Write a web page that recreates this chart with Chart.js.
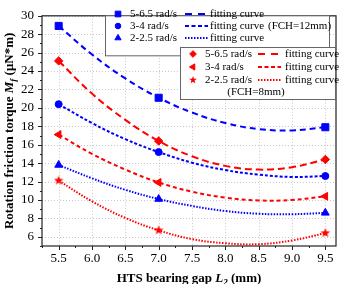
<!DOCTYPE html>
<html>
<head>
<meta charset="utf-8">
<script src="https://cdn.jsdelivr.net/npm/chart.js@4.4.1/dist/chart.umd.min.js"></script>
<style>
  html, body { margin: 0; padding: 0; background: #fff; }
  #wrap { width: 342px; height: 284px; }
</style>
</head>
<body>
<div id="wrap"><canvas id="chart" width="342" height="284"></canvas></div>
<script>
// gap values (mm) where the measurements sit
const gapPoints = [5.5, 7.0, 9.5];
// gap values sampled along the fitting curves
const gapCurve = [5.5, 6.0, 6.5, 7.0, 7.5, 8.0, 8.5, 9.0, 9.5];

// FCH = 12mm (blue), measured torque
const fch12High = [28.9, 21.1, 17.9];
const fch12Mid = [20.4, 15.2, 12.6];
const fch12Low = [13.8, 10.1, 8.6];
// FCH = 12mm fitting curves
const fch12HighFit = [28.9, 25.8, 23.2, 21.1, 19.5, 18.35, 17.7, 17.55, 17.9];
const fch12MidFit = [20.4, 18.35, 16.6, 15.2, 14.05, 13.25, 12.75, 12.5, 12.6];
const fch12LowFit = [13.8, 12.35, 11.1, 10.1, 9.35, 8.8, 8.5, 8.45, 8.6];

// FCH = 8mm (red), measured torque
const fch8High = [25.1, 16.4, 14.4];
const fch8Mid = [17.1, 11.9, 10.4];
const fch8Low = [12.1, 6.7, 6.4];
// FCH = 8mm fitting curves
const fch8HighFit = [25.1, 21.55, 18.7, 16.4, 14.75, 13.7, 13.3, 13.55, 14.4];
const fch8MidFit = [17.1, 15.0, 13.3, 11.9, 10.9, 10.25, 9.95, 10.0, 10.4];
const fch8LowFit = [12.1, 9.85, 8.05, 6.7, 5.75, 5.3, 5.2, 5.6, 6.4];

const speedLabels = ['5-6.5 rad/s', '3-4 rad/s', '2-2.5 rad/s'];
const xTicks = [5.5, 6.0, 6.5, 7.0, 7.5, 8.0, 8.5, 9.0, 9.5];
const yTicks = [6, 8, 10, 12, 14, 16, 18, 20, 22, 24, 26, 28, 30];

const BLUE = '#0000ff';
const RED = '#ff0000';
const SERIF = '"Liberation Serif", "Times New Roman", serif';

// filled star marker (chart.js 'star' is only an outline)
function makeStar(color, r) {
    const c = document.createElement('canvas');
    const s = Math.ceil(r * 2 + 2);
    c.width = s; c.height = s;
    const g = c.getContext('2d');
    g.fillStyle = color;
    g.beginPath();
    for (let i = 0; i < 10; i++) {
        const rr = i % 2 === 0 ? r : r * 0.42;
        const a = -Math.PI / 2 + i * Math.PI / 5;
        const px = s / 2 + rr * Math.cos(a);
        const py = s / 2 + rr * Math.sin(a);
        if (i === 0) g.moveTo(px, py); else g.lineTo(px, py);
    }
    g.closePath();
    g.fill();
    return c;
}
const starImg = makeStar(RED, 5);
const starSmall = makeStar(RED, 4);

function pts(xs, ys) {
    return xs.map((x, i) => ({ x: x, y: ys[i] }));
}

const markers = [
    { data: fch12High, color: BLUE, style: 'rect', radius: 5, rotation: 0 },
    { data: fch12Mid, color: BLUE, style: 'circle', radius: 3.5, rotation: 0 },
    { data: fch12Low, color: BLUE, style: 'triangle', radius: 4.5, rotation: 0 },
    { data: fch8High, color: RED, style: 'rectRot', radius: 4.2, rotation: 0 },
    { data: fch8Mid, color: RED, style: 'triangle', radius: 4.5, rotation: -90 },
    { data: fch8Low, color: RED, style: starImg, radius: 5, rotation: 0 }
];
const curves = [
    { data: fch12HighFit, color: BLUE, dash: [6, 4], legendDash: [7, 6] },
    { data: fch12MidFit, color: BLUE, dash: [3, 2], legendDash: [4, 2.5] },
    { data: fch12LowFit, color: BLUE, dash: [1.5, 1.5], legendDash: [1.5, 1.5] },
    { data: fch8HighFit, color: RED, dash: [7, 4], legendDash: [7, 6] },
    { data: fch8MidFit, color: RED, dash: [4, 3], legendDash: [4, 2.5] },
    { data: fch8LowFit, color: RED, dash: [1.5, 1.5], legendDash: [1.5, 1.5] }
];

const datasets = [];
curves.forEach(c => {
    datasets.push({
        data: pts(gapCurve, c.data),
        borderColor: c.color,
        borderWidth: 2,
        borderDash: c.dash,
        pointRadius: 0,
        tension: 0.4,
        fill: false
    });
});
markers.forEach(m => {
    datasets.push({
        data: pts(gapPoints, m.data),
        showLine: false,
        pointStyle: m.style,
        pointRadius: m.radius,
        pointRotation: m.rotation,
        pointBackgroundColor: m.color,
        pointBorderColor: m.color,
        pointBorderWidth: 1
    });
});

function drawMarker(ctx, m, x, y) {
    ctx.save();
    ctx.fillStyle = m.color;
    ctx.strokeStyle = m.color;
    ctx.lineWidth = 1;
    const style = m.style === starImg ? starSmall : m.style;
    Chart.helpers.drawPoint(ctx, { pointStyle: style, radius: m.radius * 0.8, rotation: m.rotation, borderWidth: 1 }, x, y);
    ctx.restore();
}

function drawSample(ctx, c, x1, x2, y) {
    ctx.save();
    ctx.strokeStyle = c.color;
    ctx.lineWidth = 2;
    ctx.setLineDash(c.legendDash);
    ctx.beginPath();
    ctx.moveTo(x1, y);
    ctx.lineTo(x2, y);
    ctx.stroke();
    ctx.restore();
}

// grid, frame and minor ticks
const framePlugin = {
    id: 'frame',
    beforeDatasetsDraw(chart) {
        const ctx = chart.ctx;
        const a = chart.chartArea;
        const xs = chart.scales.x, ys = chart.scales.y;
        ctx.save();
        ctx.strokeStyle = '#c8c8c8';
        ctx.lineWidth = 1;
        ctx.setLineDash([1, 2]);
        xTicks.forEach(v => {
            const px = Math.round(xs.getPixelForValue(v)) + 0.5;
            ctx.beginPath(); ctx.moveTo(px, a.top); ctx.lineTo(px, a.bottom); ctx.stroke();
        });
        yTicks.forEach(v => {
            const py = Math.round(ys.getPixelForValue(v)) + 0.5;
            ctx.beginPath(); ctx.moveTo(a.left, py); ctx.lineTo(a.right, py); ctx.stroke();
        });
        ctx.setLineDash([]);
        ctx.strokeStyle = '#222';
        ctx.lineWidth = 1.2;
        ctx.strokeRect(a.left, a.top, a.right - a.left, a.bottom - a.top);
        // major & minor ticks on left and bottom
        ctx.lineWidth = 1;
        for (let v = 5; v <= 30; v += 1) {
            const py = Math.round(ys.getPixelForValue(v)) + 0.5;
            const len = v % 2 === 0 ? 4 : 2;
            ctx.beginPath(); ctx.moveTo(a.left - len, py); ctx.lineTo(a.left, py); ctx.stroke();
        }
        for (let v = 5.25; v <= 9.66; v += 0.25) {
            const px = Math.round(xs.getPixelForValue(v)) + 0.5;
            const major = Math.abs(v * 2 - Math.round(v * 2)) < 0.01;
            const len = major ? 4 : 2;
            ctx.beginPath(); ctx.moveTo(px, a.bottom); ctx.lineTo(px, a.bottom + len); ctx.stroke();
        }
        ctx.restore();
    },
    afterDraw(chart) {
        const ctx = chart.ctx;
        const a = chart.chartArea;
        ctx.save();

        // legend box 1 (FCH=12mm)
        ctx.fillStyle = '#fff';
        ctx.strokeStyle = '#666';
        ctx.lineWidth = 1;
        ctx.fillRect(105.5, a.top, 224, 40);
        ctx.strokeRect(105.5, a.top, 224, 40);
        ctx.font = '11px ' + SERIF;
        ctx.textBaseline = 'middle';
        ctx.textAlign = 'left';
        const rows1 = [14, 26, 38];
        for (let i = 0; i < 3; i++) {
            drawMarker(ctx, markers[i], 118, rows1[i]);
            ctx.fillStyle = '#000';
            ctx.fillText(speedLabels[i], 130, rows1[i] + 0.5);
            drawSample(ctx, curves[i], 185, 208, rows1[i]);
            ctx.fillStyle = '#000';
            ctx.fillText('fitting curve', 210, rows1[i] + 0.5);
        }
        ctx.fillText('(FCH=12mm)', 268, rows1[1] + 0.5);

        // legend box 2 (FCH=8mm)
        ctx.fillStyle = '#fff';
        ctx.fillRect(180.5, 47.5, a.right - 181, 52);
        ctx.strokeStyle = '#666';
        ctx.strokeRect(180.5, 47.5, a.right - 181, 52);
        const rows2 = [54, 67, 80];
        for (let i = 0; i < 3; i++) {
            drawMarker(ctx, markers[i + 3], 193, rows2[i]);
            ctx.fillStyle = '#000';
            ctx.fillText(speedLabels[i], 205, rows2[i] + 0.5);
            drawSample(ctx, curves[i + 3], 258, 281, rows2[i]);
            ctx.fillStyle = '#000';
            ctx.fillText('fitting curve', 285, rows2[i] + 0.5);
        }
        ctx.textAlign = 'center';
        ctx.fillText('(FCH=8mm)', 256, 92.5);

        // axis titles with italic symbols and subscripts
        ctx.fillStyle = '#000';
        ctx.textAlign = 'left';
        ctx.textBaseline = 'alphabetic';
        const parts = (main, sym, sub, tail) => [
            { t: main, f: 'bold 13px ' + SERIF, dy: 0 },
            { t: sym, f: 'italic bold 13px ' + SERIF, dy: 0 },
            { t: sub, f: 'italic bold 9px ' + SERIF, dy: 3 },
            { t: tail, f: 'bold 13px ' + SERIF, dy: 0 }
        ];
        function drawParts(list, cx, cy) {
            let w = 0;
            list.forEach(p => { ctx.font = p.f; w += ctx.measureText(p.t).width; });
            let x = cx - w / 2;
            list.forEach(p => {
                ctx.font = p.f;
                ctx.fillText(p.t, x, cy + p.dy);
                x += ctx.measureText(p.t).width;
            });
        }
        const cx = (a.left + a.right) / 2;
        drawParts(parts('HTS bearing gap ', 'L', '2', ' (mm)'), cx, 282);

        ctx.save();
        ctx.translate(13, (a.top + a.bottom) / 2);
        ctx.rotate(-Math.PI / 2);
        drawParts(parts('Rotation friction torque ', 'M', 'f', ' (\u03bcN*m)'), 0, 0);
        ctx.restore();

        ctx.restore();
    }
};

new Chart(document.getElementById('chart'), {
    type: 'line',
    data: { datasets: datasets },
    options: {
        responsive: false,
        animation: false,
        events: [],
        layout: { padding: { top: 5, right: 6, left: 0, bottom: 0 } },
        plugins: { legend: { display: false }, tooltip: { enabled: false } },
        scales: {
            x: {
                type: 'linear',
                min: 5.25,
                max: 9.66,
                afterBuildTicks: s => { s.ticks = xTicks.map(v => ({ value: v })); },
                afterFit: s => { s.height = 38; },
                grid: { display: false, drawTicks: false },
                border: { display: false },
                ticks: {
                    padding: 5,
                    color: '#000',
                    font: { family: SERIF, size: 13 },
                    callback: v => v.toFixed(1),
                    maxRotation: 0
                }
            },
            y: {
                min: 5,
                max: 30,
                afterBuildTicks: s => { s.ticks = yTicks.map(v => ({ value: v })); },
                afterFit: s => { s.width = 42; },
                grid: { display: false, drawTicks: false },
                border: { display: false },
                ticks: {
                    padding: 8,
                    color: '#000',
                    font: { family: SERIF, size: 13 }
                }
            }
        }
    },
    plugins: [framePlugin]
});
</script>
</body>
</html>
